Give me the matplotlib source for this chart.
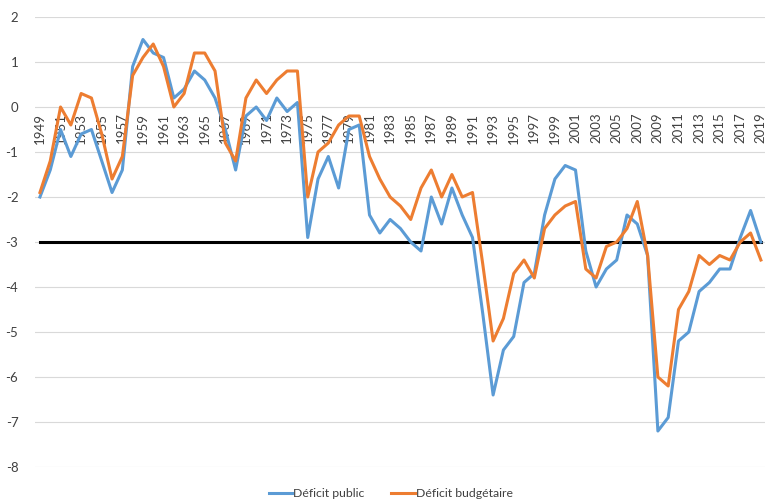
import matplotlib
matplotlib.use("Agg")
import matplotlib.pyplot as plt

plt.rcParams['font.family'] = ['Lato', 'DejaVu Sans']
plt.rcParams['axes.unicode_minus'] = False

years = list(range(1949, 2020))

deficit_public = [
    -2.0, -1.4, -0.5, -1.1, -0.6, -0.5, -1.2, -1.9, -1.4, 0.9,   # 1949-1958
    1.5, 1.2, 1.1, 0.2, 0.4, 0.8, 0.6, 0.2, -0.5, -1.4,          # 1959-1968
    -0.2, 0.0, -0.3, 0.2, -0.1, 0.1, -2.9, -1.6, -1.1, -1.8,     # 1969-1978
    -0.5, -0.4, -2.4, -2.8, -2.5, -2.7, -3.0, -3.2, -2.0, -2.6,  # 1979-1988
    -1.8, -2.4, -2.9, -4.6, -6.4, -5.4, -5.1, -3.9, -3.7, -2.4,  # 1989-1998
    -1.6, -1.3, -1.4, -3.2, -4.0, -3.6, -3.4, -2.4, -2.6, -3.3,  # 1999-2008
    -7.2, -6.9, -5.2, -5.0, -4.1, -3.9, -3.6, -3.6, -2.9, -2.3,  # 2009-2018
    -3.0,                                                        # 2019
]

deficit_budgetaire = [
    -1.9, -1.2, 0.0, -0.4, 0.3, 0.2, -0.6, -1.6, -1.1, 0.7,
    1.1, 1.4, 0.9, 0.0, 0.3, 1.2, 1.2, 0.8, -0.8, -1.2,
    0.2, 0.6, 0.3, 0.6, 0.8, 0.8, -2.0, -1.0, -0.8, -0.4,
    -0.2, -0.2, -1.1, -1.6, -2.0, -2.2, -2.5, -1.8, -1.4, -2.0,
    -1.5, -2.0, -1.9, -3.5, -5.2, -4.7, -3.7, -3.4, -3.8, -2.7,
    -2.4, -2.2, -2.1, -3.6, -3.8, -3.1, -3.0, -2.7, -2.1, -3.3,
    -6.0, -6.2, -4.5, -4.1, -3.3, -3.5, -3.3, -3.4, -3.0, -2.8,
    -3.4,
]

seuil = [-3] * len(years)

fig = plt.figure(figsize=(7.66, 5.0), dpi=100)
ax = fig.add_axes([0.0457, 0.066, 0.953, 0.9])

ax.plot(years, deficit_public, color='#5B9BD5', lw=2.2, label='Déficit public',
        solid_joinstyle='round', zorder=3)
ax.plot(years, deficit_budgetaire, color='#ED7D31', lw=2.2, label='Déficit budgétaire',
        solid_joinstyle='round', zorder=3)
ax.plot(years, seuil, color='black', lw=2.2, zorder=2)

ax.set_ylim(-8, 2)
ax.set_xlim(1948.52, 2019.4)
ax.set_yticks(range(-8, 3))
ax.grid(axis='y', color='#D9D9D9', lw=0.8)
ax.set_axisbelow(True)

# year labels hang under the zero line
ax.spines['bottom'].set_position(('data', 0))
for s in ax.spines.values():
    s.set_visible(False)
ax.set_xticks(years[::2])
ax.set_xticklabels([str(y) for y in years[::2]], rotation=90, va='top', ha='center')
ax.tick_params(axis='x', length=0, pad=4, labelsize=9.5, colors='#404040')
ax.tick_params(axis='y', length=0, pad=12, labelsize=9.5, colors='#404040')
for lbl in ax.get_yticklabels():
    lbl.set_horizontalalignment('right')

leg = fig.legend(loc='lower center', bbox_to_anchor=(0.51, -0.02), ncol=2, frameon=False,
                 fontsize=8.8, handlelength=1.9, handletextpad=0.1, columnspacing=2.2)
for t in leg.get_texts():
    t.set_color('#404040')

fig.savefig('out.png', dpi=100)
